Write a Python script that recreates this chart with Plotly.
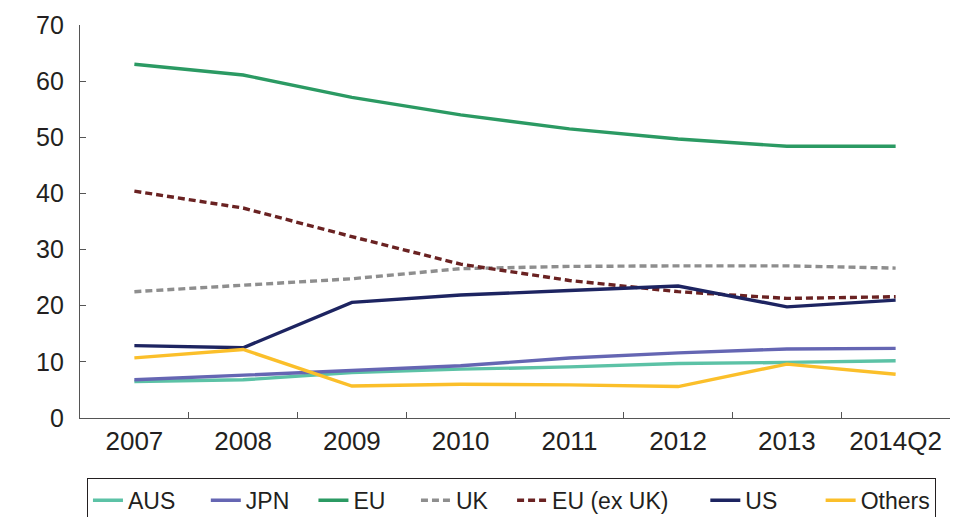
import plotly.graph_objects as go

categories = ["2007", "2008", "2009", "2010", "2011", "2012", "2013", "2014Q2"]
aus = [6.5, 6.8, 8.1, 8.7, 9.1, 9.7, 9.9, 10.2]
jpn = [6.8, 7.6, 8.4, 9.3, 10.7, 11.6, 12.3, 12.4]
eu = [63.0, 61.1, 57.1, 54.0, 51.5, 49.7, 48.4, 48.4]
uk = [22.5, 23.6, 24.8, 26.6, 27.0, 27.1, 27.1, 26.7]
eu_ex_uk = [40.4, 37.4, 32.3, 27.4, 24.5, 22.5, 21.3, 21.6]
us = [12.9, 12.5, 20.6, 21.9, 22.7, 23.5, 19.8, 21.0]
others = [10.7, 12.2, 5.7, 6.0, 5.9, 5.6, 9.6, 7.8]
y_ticks = [0, 10, 20, 30, 40, 50, 60, 70]

NB = "\u00a0"
series = [
    ("AUS", aus, "#5cc2a6", "solid", 4),
    ("JPN", jpn, "#6566b3", "solid", 3),
    ("EU", eu, "#2b9a63", "solid", 4),
    ("UK", uk, "#8e8e8e", "7px,4px", 3),
    ("EU (ex UK)", eu_ex_uk, "#6a2222", "7px,4px", 5),
    ("US", us, "#1d2461", "solid", 6),
    ("Others", others, "#fbbf2a", "solid", 0),
]

fig = go.Figure()
for name, vals, color, dash, pad in series:
    fig.add_trace(go.Scatter(
        x=categories, y=vals, name=name + NB * pad, mode="lines",
        line=dict(color=color, width=3.4, dash=dash),
    ))

font = dict(family="Liberation Sans, Arial, sans-serif", size=25, color="#231f20")

fig.update_layout(
    width=973, height=517,
    margin=dict(l=80, r=23, t=25, b=99, autoexpand=False),
    plot_bgcolor="white", paper_bgcolor="white",
    font=font,
    showlegend=True,
    legend=dict(
        orientation="h", x=0.008, xanchor="left", y=-0.152, yanchor="top",
        bordercolor="#231f20", borderwidth=1,
        font=dict(size=23, color="#231f20"),
        tracegroupgap=0, itemwidth=30,
    ),
    xaxis=dict(
        type="category", showgrid=False, showline=True, linecolor="#555555", linewidth=1.2,
        ticks="inside", ticklen=6, tickcolor="#555555", tickson="boundaries",
        tickfont=dict(size=26, color="#231f20"),
        range=[-0.5, 7.5],
    ),
    yaxis=dict(
        range=[0, 70], tickvals=y_ticks, showgrid=False, zeroline=False,
        showline=True, linecolor="#555555", linewidth=1.2,
        ticks="inside", ticklen=6, tickcolor="#555555",
        tickfont=dict(size=25, color="#231f20"), ticklabelstandoff=10,
    ),
)

fig.write_html("out.html")
